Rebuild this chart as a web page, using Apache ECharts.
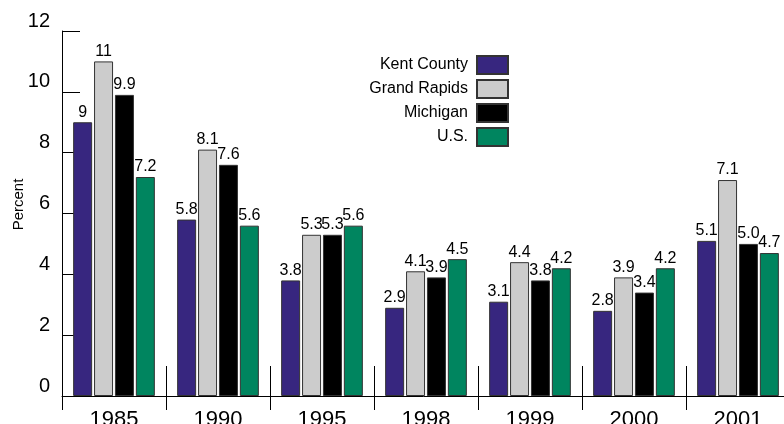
<!DOCTYPE html>
<html>
<head>
<meta charset="utf-8">
<script src="https://cdn.jsdelivr.net/npm/echarts@6/dist/echarts.min.js"></script>
<style>
  html, body { margin: 0; padding: 0; background: #fff; overflow: hidden; }
  #chart { width: 784px; height: 424px; }
</style>
</head>
<body>
<div id="chart"></div>
<script>
// years along the x axis
const years = ['1985', '1990', '1995', '1998', '1999', '2000', '2001'];

// values as printed on the bars (strings keep the printed precision, e.g. "5.0")
const kentCounty   = ['9',   '5.8', '3.8', '2.9', '3.1', '2.8', '5.1'];
const grandRapids  = ['11',  '8.1', '5.3', '4.1', '4.4', '3.9', '7.1'];
const michigan     = ['9.9', '7.6', '5.3', '3.9', '3.8', '3.4', '5.0'];
const unitedStates = ['7.2', '5.6', '5.6', '4.5', '4.2', '4.2', '4.7'];

const yTicks = [0, 2, 4, 6, 8, 10, 12];

const FONT = '"Liberation Sans", Arial, sans-serif';

function barSeries(name, data, color) {
  return {
    name,
    type: 'bar',
    xAxisIndex: 0,
    data,
    barWidth: 19,
    barGap: '10%',
    itemStyle: { color, borderColor: '#333', borderWidth: 1 },
    label: {
      show: true,
      position: 'top',
      distance: 2,
      color: '#000',
      fontFamily: FONT,
      fontSize: 16,
      formatter: (p) => p.data,
    },
    emphasis: { disabled: true },
  };
}

const chart = echarts.init(document.getElementById('chart'), null, { renderer: 'canvas' });

chart.setOption({
  animation: false,
  backgroundColor: '#fff',
  textStyle: { fontFamily: FONT },
  grid: { left: 62, top: 31, bottom: 28, width: 728, outerBoundsMode: 'none', containLabel: false },
  legend: {
    orient: 'vertical',
    align: 'right',
    right: 275,
    top: 55,
    padding: 0,
    icon: 'rect',
    itemWidth: 31,
    itemHeight: 18,
    itemGap: 4,
    textStyle: { fontFamily: FONT, fontSize: 16, lineHeight: 18, color: '#000', padding: [0, 4, 0, 0] },
    data: ['Kent County', 'Grand Rapids', 'Michigan', 'U.S.'],
  },
  xAxis: [
    {
      type: 'category',
      data: years,
      axisLine: { show: true, lineStyle: { color: '#000', width: 1 } },
      axisTick: { show: true, inside: true, length: 30, interval: 0, lineStyle: { color: '#000' } },
      axisLabel: { color: '#000', fontSize: 22, fontFamily: FONT, margin: 13 },
    },
    {
      type: 'category',
      data: years,
      position: 'bottom',
      axisLine: { show: false },
      axisTick: { show: true, length: 14, interval: 0, lineStyle: { color: '#000' } },
      axisLabel: { show: false },
    },
  ],
  yAxis: {
    type: 'value',
    min: yTicks[0],
    max: yTicks[yTicks.length - 1],
    interval: 2,
    name: 'Percent',
    nameLocation: 'middle',
    nameGap: 36,
    nameMoveOverlap: false,
    nameTextStyle: { color: '#000', fontSize: 15, fontFamily: FONT, padding: [0, 0, 0, 18] },
    axisLine: { show: true, lineStyle: { color: '#000', width: 1 } },
    axisTick: { show: true, inside: true, length: 18, lineStyle: { color: '#000' } },
    splitLine: { show: false },
    axisLabel: {
      color: '#000',
      fontSize: 20,
      fontFamily: FONT,
      margin: 12,
      verticalAlign: 'bottom',
      lineHeight: 20,
    },
  },
  series: [
    barSeries('Kent County', kentCounty, '#37267f'),
    barSeries('Grand Rapids', grandRapids, '#cccccc'),
    barSeries('Michigan', michigan, '#000000'),
    barSeries('U.S.', unitedStates, '#00855f'),
  ],
});
</script>
</body>
</html>
